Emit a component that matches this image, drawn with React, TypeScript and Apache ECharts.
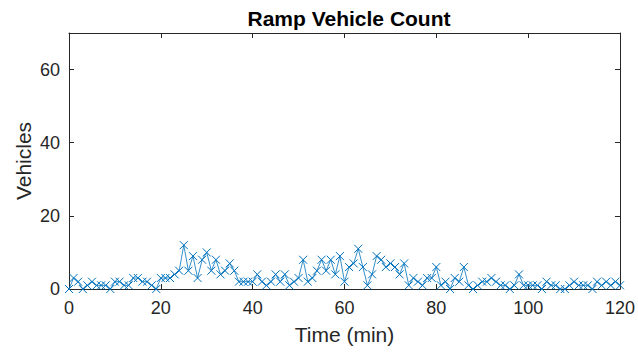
import React, { useEffect, useRef } from "react";
import * as echarts from "echarts";

const title = "Ramp Vehicle Count";
const xName = "Time (min)";
const yName = "Vehicles";
const xTicks = [0, 20, 40, 60, 80, 100, 120];
const yTicks = [0, 20, 40, 60];

// minute 0..120
const counts = [
  0, 3, 2, 0, 1, 2, 1, 1, 1, 0, 2, 2, 1, 1, 3, 3, 2, 2, 1, 0,
  3, 3, 3, 4, 5, 12, 5, 9, 3, 8, 10, 5, 8, 4, 5, 7, 5, 2, 2, 2,
  2, 4, 2, 1, 2, 4, 2, 4, 1, 2, 3, 8, 2, 3, 5, 8, 5, 8, 4, 9,
  2, 6, 7, 11, 6, 1, 4, 9, 8, 6, 7, 6, 4, 7, 1, 3, 2, 1, 3, 3,
  6, 1, 2, 0, 3, 2, 6, 1, 0, 1, 2, 2, 3, 2, 1, 1, 0, 1, 4, 1,
  1, 1, 1, 0, 2, 1, 1, 0, 0, 1, 2, 1, 1, 1, 0, 2, 1, 2, 1, 2,
  1,
];

const color = "#0072BD";
const axisColor = "#262626";
const font = "'Liberation Sans', Arial, Helvetica, sans-serif";

const tick = () => ({ show: true, inside: true, length: 5, lineStyle: { color: axisColor, width: 1 } });
const line = () => ({ show: true, onZero: false, lineStyle: { color: axisColor, width: 1 } });

export default function App() {
  const ref = useRef<HTMLDivElement>(null);
  useEffect(() => {
    if (!ref.current) return;
    const chart = echarts.init(ref.current, undefined, { renderer: "svg" });
    const data = counts.map((v, i) => [i, v]);
    const xMin = xTicks[0];
    const xMax = xTicks[xTicks.length - 1];
    chart.setOption({
      animation: false,
      backgroundColor: "#ffffff",
      title: {
        text: title,
        left: 344,
        textAlign: "center",
        top: 3,
        textStyle: { fontFamily: font, fontSize: 21, fontWeight: "bold", color: "#000" },
      },
      grid: {
        left: 69,
        right: 17,
        top: 33,
        bottom: 63,
        show: false,
      },
      xAxis: [
        {
          type: "value",
          min: xMin,
          max: xMax,
          interval: 20,
          name: xName,
          nameLocation: "middle",
          nameGap: 35,
          nameTextStyle: { fontFamily: font, fontSize: 21, color: axisColor },
          axisLine: line(),
          axisTick: tick(),
          axisLabel: { fontFamily: font, fontSize: 18, color: axisColor, margin: 10 },
          splitLine: { show: false },
        },
        {
          type: "value",
          position: "top",
          min: xMin,
          max: xMax,
          interval: 20,
          axisLine: line(),
          axisTick: tick(),
          axisLabel: { show: false },
          splitLine: { show: false },
        },
      ],
      yAxis: [
        {
          type: "value",
          position: "left",
          min: 0,
          max: 70,
          interval: 20,
          name: yName,
          nameLocation: "middle",
          nameGap: 35,
          nameMoveOverlap: false,
          nameTextStyle: { fontFamily: font, fontSize: 21, color: axisColor },
          axisLine: line(),
          axisTick: tick(),
          axisLabel: {
            fontFamily: font,
            fontSize: 18,
            color: axisColor,
            margin: 9,
            formatter: (v: number) => (yTicks.includes(v) ? String(v) : ""),
          },
          splitLine: { show: false },
        },
        {
          type: "value",
          position: "right",
          min: 0,
          max: 70,
          interval: 20,
          axisLine: line(),
          axisTick: tick(),
          axisLabel: { show: false },
          splitLine: { show: false },
        },
      ],
      series: [
        {
          type: "line",
          data,
          xAxisIndex: 0,
          yAxisIndex: 0,
          symbol: "path://M0,0L10,10M10,0L0,10",
          symbolSize: 8,
          showAllSymbol: true,
          lineStyle: { color, width: 0.8 },
          itemStyle: { color: "rgba(0,0,0,0)", borderColor: color, borderWidth: 1 },
          emphasis: { disabled: true },
        },
      ],
    });
    return () => chart.dispose();
  }, []);
  return (
    <div
      ref={ref}
      style={{ position: "absolute", left: 0, top: 0, width: 638, height: 352 }}
    />
  );
}
